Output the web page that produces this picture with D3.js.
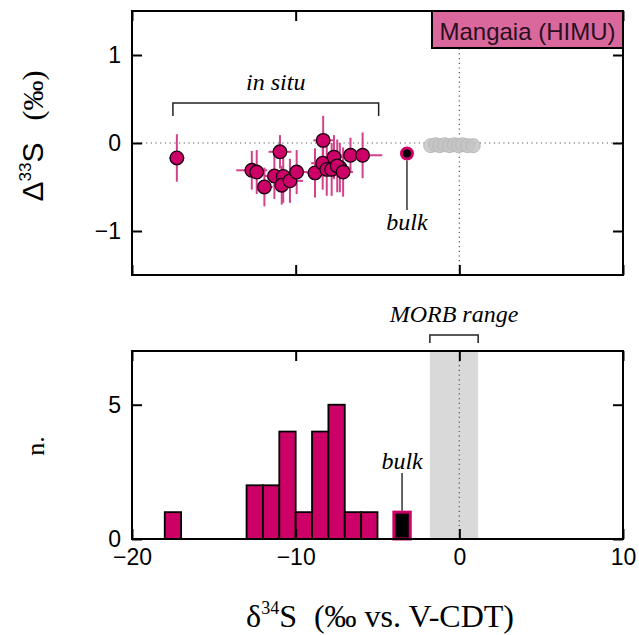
<!DOCTYPE html>
<html><head><meta charset="utf-8">
<script src="https://cdn.jsdelivr.net/npm/d3@7"></script>
<style>
html,body{margin:0;padding:0;background:#fff;}
svg{display:block;}
</style>
</head><body>
<svg id="chart" width="639" height="635"></svg>
<script>
// ---------- data ----------
const insituX  = [-17.26,-12.68,-12.38,-11.91,-11.30,-10.76,-10.96,-10.85,-10.35,-9.94,-8.82,-8.35,-8.10,-8.32,-7.80,-7.30,-7.66,-7.46,-7.10,-6.65,-5.91];
const insituY  = [-0.17,-0.31,-0.33,-0.50,-0.375,-0.38,-0.10,-0.48,-0.43,-0.33,-0.34,-0.23,-0.30,0.03,-0.30,-0.28,-0.16,-0.26,-0.33,-0.14,-0.14];
const insituEx = [0.46,0.95,0.5,0.5,0.6,0.5,0.7,0.5,0.8,0.9,0.5,0.7,0.6,0.6,0.7,0.6,0.8,0.6,0.6,0.6,1.2];
const insituEy = [0.27,0.22,0.25,0.22,0.26,0.3,0.19,0.22,0.25,0.25,0.28,0.3,0.3,0.28,0.3,0.28,0.25,0.3,0.28,0.2,0.26];
const bulkX = [-3.2], bulkY = [-0.12];
const morbPtsX = [-1.75,-1.45,-1.2,-0.9,-0.6,-0.3,-0.05,0.2,0.5,0.85];
const morbPtsY = [-0.03,-0.02,-0.03,-0.02,-0.03,-0.02,-0.03,-0.02,-0.03,-0.03];
const histBinStart = [-18,-13,-12,-11,-10,-9,-8,-7,-6];
const histCounts   = [1,2,2,4,1,4,5,1,1];
const bulkBinStart = [-4], bulkCount = [1];
const binWidth = 1;
const morbRange = [-1.8, 1.15];
const xTicks = [-20,-10,0,10];
const topYTicks = [-1,0,1];
const botYTicks = [0,5];
const legendLabel = "Mangaia (HIMU)";

// ---------- setup ----------
const svg = d3.select("#chart");
const SANS = "'Liberation Sans', Arial, sans-serif";
const SERIF = "'Liberation Serif', 'Times New Roman', serif";
const PINK = "#cc0066", ERR = "#d2428a";
const L = 132, R = 623;
const x = d3.scaleLinear().domain([-20,10]).range([L,R]);
const yTop = d3.scaleLinear().domain([-1.5,1.5]).range([275,11]);
const yBot = d3.scaleLinear().domain([0,7]).range([539,351]);
const minus = d => d3.format("")(d).replace("-","\u2212");

function frameAxes(y, yTicks, showX){
  const [y0,y1] = y.range();
  const ax = (gen, tr) => svg.append("g").attr("transform", tr).call(gen)
    .call(g => { g.select(".domain").remove(); g.selectAll("line").attr("stroke","#000").attr("stroke-width",2); g.selectAll("text").attr("font-family",SANS).attr("font-size",23).attr("fill","#000"); });
  ax(d3.axisBottom(x).tickValues(xTicks).tickSizeInner(-10).tickSizeOuter(0).tickPadding(10).tickFormat(showX?minus:""), `translate(0,${y0})`);
  ax(d3.axisTop(x).tickValues(xTicks).tickSizeInner(-10).tickSizeOuter(0).tickFormat(""), `translate(0,${y1})`);
  ax(d3.axisLeft(y).tickValues(yTicks).tickSizeInner(-10).tickSizeOuter(0).tickPadding(11).tickFormat(minus), `translate(${L},0)`);
  ax(d3.axisRight(y).tickValues(yTicks).tickSizeInner(-10).tickSizeOuter(0).tickFormat(""), `translate(${R},0)`);
  svg.append("rect").attr("x",L).attr("y",y1).attr("width",R-L).attr("height",y0-y1)
    .attr("fill","none").attr("stroke","#000").attr("stroke-width",2);
}

// ---------- top panel ----------
const gTop = svg.append("g");
gTop.append("line").attr("x1",L).attr("x2",R).attr("y1",yTop(0)).attr("y2",yTop(0))
  .attr("stroke","#555").attr("stroke-width",1.2).attr("stroke-dasharray","1.2,3.5");
gTop.append("line").attr("x1",x(0)).attr("x2",x(0)).attr("y1",yTop(1.5)).attr("y2",yTop(-1.5))
  .attr("stroke","#555").attr("stroke-width",1.2).attr("stroke-dasharray","1.2,3.5");

// MORB grey points
gTop.selectAll("circle.morb").data(morbPtsX).join("circle").attr("class","morb")
  .attr("cx",d=>x(d)).attr("cy",(d,i)=>yTop(morbPtsY[i])).attr("r",7)
  .attr("fill","#c4c4c4").attr("fill-opacity",0.85).attr("stroke","#b8b8b8").attr("stroke-width",1);

// error bars
const eb = gTop.append("g").attr("stroke",ERR).attr("stroke-width",2);
insituX.forEach((d,i)=>{
  eb.append("line").attr("x1",x(d-insituEx[i])).attr("x2",x(d+insituEx[i])).attr("y1",yTop(insituY[i])).attr("y2",yTop(insituY[i]));
  eb.append("line").attr("x1",x(d)).attr("x2",x(d)).attr("y1",yTop(insituY[i]-insituEy[i])).attr("y2",yTop(insituY[i]+insituEy[i]));
});
gTop.selectAll("circle.pt").data(insituX).join("circle").attr("class","pt")
  .attr("cx",d=>x(d)).attr("cy",(d,i)=>yTop(insituY[i])).attr("r",6.8)
  .attr("fill",PINK).attr("stroke","#1a0010").attr("stroke-width",1.3);

// bulk point
gTop.append("line").attr("x1",x(bulkX[0])).attr("x2",x(bulkX[0])).attr("y1",yTop(bulkY[0])+7).attr("y2",210)
  .attr("stroke","#333").attr("stroke-width",1.5);
gTop.selectAll("circle.bulk").data(bulkX).join("circle").attr("class","bulk")
  .attr("cx",d=>x(d)).attr("cy",(d,i)=>yTop(bulkY[i])).attr("r",5.5)
  .attr("fill","#000").attr("stroke",PINK).attr("stroke-width",3);
gTop.append("text").attr("x",x(bulkX[0])).attr("y",230).attr("text-anchor","middle")
  .attr("font-family",SERIF).attr("font-style","italic").attr("font-size",24).text("bulk");

// in situ bracket
const bx0 = x(-17.5), bx1 = x(-4.93);
gTop.append("path").attr("d",`M${bx0},116V103H${bx1}V116`).attr("fill","none").attr("stroke","#222").attr("stroke-width",1.5);
gTop.append("text").attr("x",(bx0+bx1)/2).attr("y",90).attr("text-anchor","middle")
  .attr("font-family",SERIF).attr("font-style","italic").attr("font-size",24).text("in situ");

frameAxes(yTop, topYTicks, false);

// legend
const lg = svg.append("g");
lg.append("rect").attr("x",432).attr("y",11).attr("width",R-432).attr("height",37)
  .attr("fill","#da689c").attr("stroke","#000").attr("stroke-width",2);
lg.append("text").attr("x",(432+R)/2).attr("y",39.5).attr("text-anchor","middle")
  .attr("font-family",SANS).attr("font-size",24).attr("fill","#2a1020").text(legendLabel);

// top y title
const t1 = svg.append("text").attr("transform",`translate(43,136) rotate(-90)`).attr("text-anchor","middle")
  .attr("font-family",SANS).attr("font-size",30).attr("fill","#000");
t1.append("tspan").text("\u0394");
t1.append("tspan").attr("dy",-12).attr("font-size",17).text("33");
t1.append("tspan").attr("dy",12).text("S");
t1.append("tspan").attr("font-family",SERIF).attr("font-size",30).attr("dx",22).text("(\u2030)");

// ---------- bottom panel ----------
const gBot = svg.append("g");
gBot.append("rect").attr("x",x(morbRange[0])).attr("y",yBot(7)).attr("width",x(morbRange[1])-x(morbRange[0])).attr("height",yBot(0)-yBot(7))
  .attr("fill","#d9d9d9");
gBot.append("line").attr("x1",x(0)).attr("x2",x(0)).attr("y1",yBot(7)).attr("y2",yBot(0))
  .attr("stroke","#555").attr("stroke-width",1.2).attr("stroke-dasharray","1.2,3.5");
gBot.selectAll("rect.bar").data(histBinStart).join("rect").attr("class","bar")
  .attr("x",d=>x(d)).attr("width",d=>x(d+binWidth)-x(d))
  .attr("y",(d,i)=>yBot(histCounts[i])).attr("height",(d,i)=>yBot(0)-yBot(histCounts[i]))
  .attr("fill",PINK).attr("stroke","#000").attr("stroke-width",1.8);
gBot.selectAll("rect.bbar").data(bulkBinStart).join("rect").attr("class","bbar")
  .attr("x",d=>x(d)).attr("width",d=>x(d+binWidth)-x(d))
  .attr("y",(d,i)=>yBot(bulkCount[i])).attr("height",(d,i)=>yBot(0)-yBot(bulkCount[i]))
  .attr("fill","#000").attr("stroke",PINK).attr("stroke-width",3);
const bulkMid = x(bulkBinStart[0]+binWidth/2);
gBot.append("line").attr("x1",bulkMid).attr("x2",bulkMid).attr("y1",473).attr("y2",yBot(bulkCount[0])-1.5)
  .attr("stroke","#333").attr("stroke-width",1.5);
gBot.append("text").attr("x",bulkMid).attr("y",469).attr("text-anchor","middle")
  .attr("font-family",SERIF).attr("font-style","italic").attr("font-size",24).text("bulk");

// MORB bracket
const mx0 = x(morbRange[0]), mx1 = x(morbRange[1]);
svg.append("path").attr("d",`M${mx0},343V335H${mx1}V343`).attr("fill","none").attr("stroke","#222").attr("stroke-width",1.5);
svg.append("text").attr("x",(mx0+mx1)/2).attr("y",322).attr("text-anchor","middle")
  .attr("font-family",SERIF).attr("font-style","italic").attr("font-size",24).text("MORB range");

frameAxes(yBot, botYTicks, true);

// bottom y title
svg.append("text").attr("transform",`translate(44,446) rotate(-90)`).attr("text-anchor","middle")
  .attr("font-family",SERIF).attr("font-size",26).text("n.");

// x title
const t2 = svg.append("text").attr("x",380).attr("y",627).attr("text-anchor","middle")
  .attr("font-family",SERIF).attr("font-size",32).attr("fill","#000");
t2.append("tspan").text("\u03b4");
t2.append("tspan").attr("dy",-13).attr("font-size",18).text("34");
t2.append("tspan").attr("dy",13).text("S");
t2.append("tspan").attr("dx",17).text("(\u2030 vs. V-CDT)");
</script>
</body></html>
